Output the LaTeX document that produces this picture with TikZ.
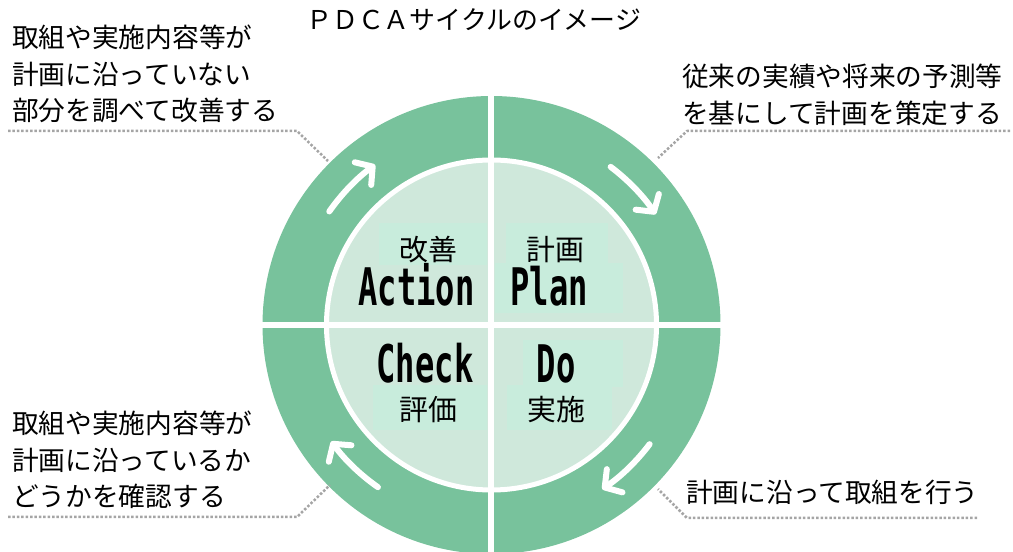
\documentclass[tikz,border=0pt]{standalone}
\usepackage{fontspec}
\newfontfamily\jpfont{Noto Sans CJK JP}
\newfontfamily\pdcafont{DejaVu Sans Mono}[FakeStretch=0.62]
\usetikzlibrary{arrows.meta}
\definecolor{ringgreen}{RGB}{120,194,156}
\definecolor{innergreen}{RGB}{207,232,219}
\definecolor{boxgreen}{RGB}{200,236,220}
\definecolor{leadergray}{RGB}{165,165,165}
\tikzset{
  note/.style={anchor=north west,inner sep=0pt,align=left,font=\jpfont\fontsize{26.8}{36.5}\selectfont},
  leader/.style={draw=leadergray,line width=2.5bp,dash pattern=on 2.5bp off 1.9bp},
  flow/.style={draw=white,line width=6bp,line cap=round,-{Straight Barb[length=12bp,width=28bp,round]}},
  kanji/.style={inner sep=0pt,font=\jpfont\fontsize{29}{30}\selectfont},
  word/.style={anchor=base,inner sep=0pt,font=\pdcafont\bfseries\fontsize{52}{56}\selectfont},
}
\begin{document}
\begin{tikzpicture}[>=latex,line join=round]
\useasboundingbox (0bp,0bp) rectangle (1013bp,552bp);
%%
\coordinate (c) at (491.5bp,227bp);
\fill [ringgreen] (c) circle (229bp);
\filldraw [fill=innergreen,draw=white,line width=5bp] (c) circle (165bp);
% lighter boxes behind the labels
\fill [boxgreen] (379bp,287bp) rectangle (487bp,329bp);
\fill [boxgreen] (506bp,287bp) rectangle (608bp,329bp);
\fill [boxgreen] (495bp,239bp) rectangle (623bp,289bp);
\fill [boxgreen] (373bp,122bp) rectangle (487bp,167bp);
\fill [boxgreen] (523bp,165bp) rectangle (623bp,212bp);
\fill [boxgreen] (507bp,122bp) rectangle (612bp,167bp);
% dividers
\draw [white,line width=6bp] (490.5bp,-5bp) -- (490.5bp,460bp);
\draw [white,line width=6bp] (258bp,227bp) -- (725bp,227bp);
% arrows round the ring
\draw [flow] (c) ++(145:198bp) arc [start angle=145,end angle=126,radius=198bp];
\draw [flow] (c) ++(53:198bp) arc [start angle=53,end angle=34,radius=198bp];
\draw [flow] (c) ++(-37:198bp) arc [start angle=-37,end angle=-56,radius=198bp];
\draw [flow] (c) ++(235:198bp) arc [start angle=235,end angle=216,radius=198bp];
%
\node (act_jp) at (428.5bp,302bp) [kanji] {改善};
\node (plan_jp) at (555bp,302bp) [kanji] {計画};
\node (check_jp) at (428.5bp,142.5bp) [kanji] {評価};
\node (do_jp) at (556.5bp,142.5bp) [kanji] {実施};
\node (act) at (416.5bp,246bp) [word] {Action};
\node (plan) at (549bp,246bp) [word] {Plan};
\node (check) at (425bp,169bp) [word] {Check};
\node (do) at (556bp,169bp) [word] {Do};
%
\node (title) at (306bp,532bp) [anchor=west,inner sep=0pt,font=\jpfont\fontsize{26}{28}\selectfont] {ＰＤＣＡサイクルのイメージ};
\node (note_act) at (12bp,527bp) [note] {取組や実施内容等が\\計画に沿っていない\\部分を調べて改善する};
\node (note_plan) at (682bp,488bp) [note] {従来の実績や将来の予測等\\を基にして計画を策定する};
\node (note_check) at (12bp,141bp) [note] {取組や実施内容等が\\計画に沿っているか\\どうかを確認する};
\node (note_do) at (686bp,72bp) [note] {計画に沿って取組を行う};
%
\coordinate (tl_a) at (8bp,421bp);
\coordinate (tl_b) at (297bp,421bp);
\coordinate (tl_c) at (328bp,391bp);
\coordinate (tr_a) at (1010bp,421bp);
\coordinate (tr_b) at (687bp,421bp);
\coordinate (tr_c) at (658bp,394bp);
\coordinate (bl_a) at (8bp,35bp);
\coordinate (bl_b) at (297bp,35bp);
\coordinate (bl_c) at (330bp,67bp);
\coordinate (br_a) at (977bp,34bp);
\coordinate (br_b) at (687bp,34bp);
\coordinate (br_c) at (658bp,63bp);
\draw [leader] (tl_a) -- (tl_b) -- (tl_c);
\draw [leader] (tr_a) -- (tr_b) -- (tr_c);
\draw [leader] (bl_a) -- (bl_b) -- (bl_c);
\draw [leader] (br_a) -- (br_b) -- (br_c);
%
\end{tikzpicture}
\end{document}
